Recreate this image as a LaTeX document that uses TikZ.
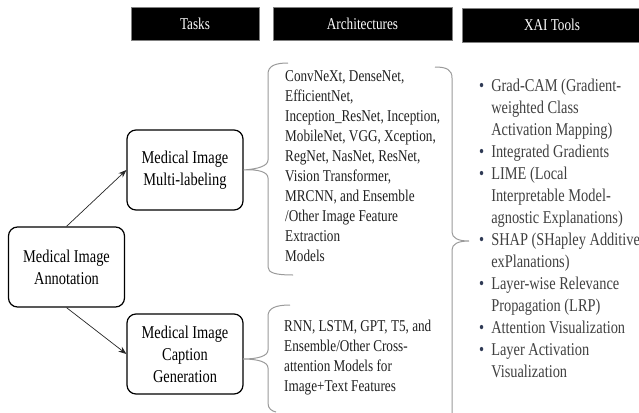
\documentclass[tikz,border=0pt]{standalone}
\usepackage{fontspec}
\setmainfont{Liberation Serif}[FakeStretch=0.8]
\usetikzlibrary{arrows.meta}

\definecolor{bracegray}{HTML}{9A9A9A}
\definecolor{listgray}{HTML}{404040}
\definecolor{bulletblue}{HTML}{2F3A55}
\newcommand{\blt}{{\color{bulletblue}\textbullet}}

\begin{document}
\begin{tikzpicture}[x=1pt,y=-1pt,
  hdr/.style={fill=black,draw=black!50,line width=0.6pt,text=white,inner sep=0pt,
    minimum height=33pt,font=\fontsize{16.5}{20}\selectfont},
  taskbox/.style={draw=black,line width=1.2pt,rounded corners=9pt,minimum width=116pt,
    minimum height=80pt,align=center,inner sep=0pt,font=\fontsize{18}{22}\selectfont},
  brace/.style={draw=bracegray,line width=1pt},
  link/.style={draw=black!85,line width=0.7pt,-{Stealth[length=8pt,width=6pt]}},
  listtext/.style={align=left,inner sep=0pt,anchor=north west,
    font=\fontsize{16.5}{20}\selectfont,text=black!88}
]
\path[use as bounding box] (0,0) rectangle (639,412);
\clip (0,0) rectangle (639,412);

% column headers
\node[hdr,minimum width=128pt] (hTasks) at (195,23.5) {Tasks};
\node[hdr,minimum width=179pt] (hArch) at (362.5,23.5) {Architectures};
\node[hdr,minimum width=180pt,minimum height=34pt] (hXai) at (552,25) {XAI Tools};

% task boxes
\node[taskbox] (ann) at (66.5,267) {Medical Image\\Annotation};
\node[taskbox] (multi) at (185,170) {Medical Image\\Multi-labeling};
\node[taskbox] (capt) at (185,354) {Medical Image\\Caption\\Generation};

\draw[link] (ann.north) -- (multi.west);
\draw[link] (ann.south) -- (capt.west);

% braces
\draw[brace] (288,63) .. controls (275,63) and (268,66) .. (268,74) -- (268,160)
  .. controls (268,166) and (258,169) .. (multi.east)
  .. controls (258,169) and (268,172) .. (268,178) -- (268,267)
  .. controls (268,273) and (276,275) .. (293,275);
\draw[brace] (290,305) .. controls (276,305) and (268,308) .. (268,316) -- (268,350)
  .. controls (268,356) and (258,359) .. (243,359)
  .. controls (258,359) and (268,362) .. (268,368) -- (268,403)
  .. controls (268,409) and (272,411) .. (276,412);
\draw[brace] (435,67) .. controls (447,67) and (452,70) .. (452,78) -- (452,232)
  .. controls (452,238) and (458,241) .. (469,241)
  .. controls (458,241) and (452,244) .. (452,250) -- (452,420);

% architecture lists
\node[listtext] (archImg) at (285,70) {ConvNeXt, DenseNet,\\EfficientNet,\\Inception\_ResNet, Inception,\\MobileNet, VGG, Xception,\\RegNet, NasNet, ResNet,\\Vision Transformer,\\MRCNN, and Ensemble\\/Other Image Feature\\Extraction\\Models};
\node[listtext] (archTxt) at (284,319.5) {RNN, LSTM, GPT, T5, and\\Ensemble/Other Cross-\\attention Models for\\Image+Text Features};

% XAI tools list
\node[anchor=north west,inner sep=0pt,text=listgray,font=\fontsize{18}{22}\selectfont] (xai) at (479,75.6) {%
\begin{tabular}{@{}l@{\hspace{7pt}}l@{}}
\blt & Grad-CAM (Gradient-\\
     & weighted Class\\
     & Activation Mapping)\\
\blt & Integrated Gradients\\
\blt & LIME (Local\\
     & Interpretable Model-\\
     & agnostic Explanations)\\
\blt & SHAP (SHapley Additive\\
     & exPlanations)\\
\blt & Layer-wise Relevance\\
     & Propagation (LRP)\\
\blt & Attention Visualization\\
\blt & Layer Activation\\
     & Visualization
\end{tabular}};
\end{tikzpicture}
\end{document}
